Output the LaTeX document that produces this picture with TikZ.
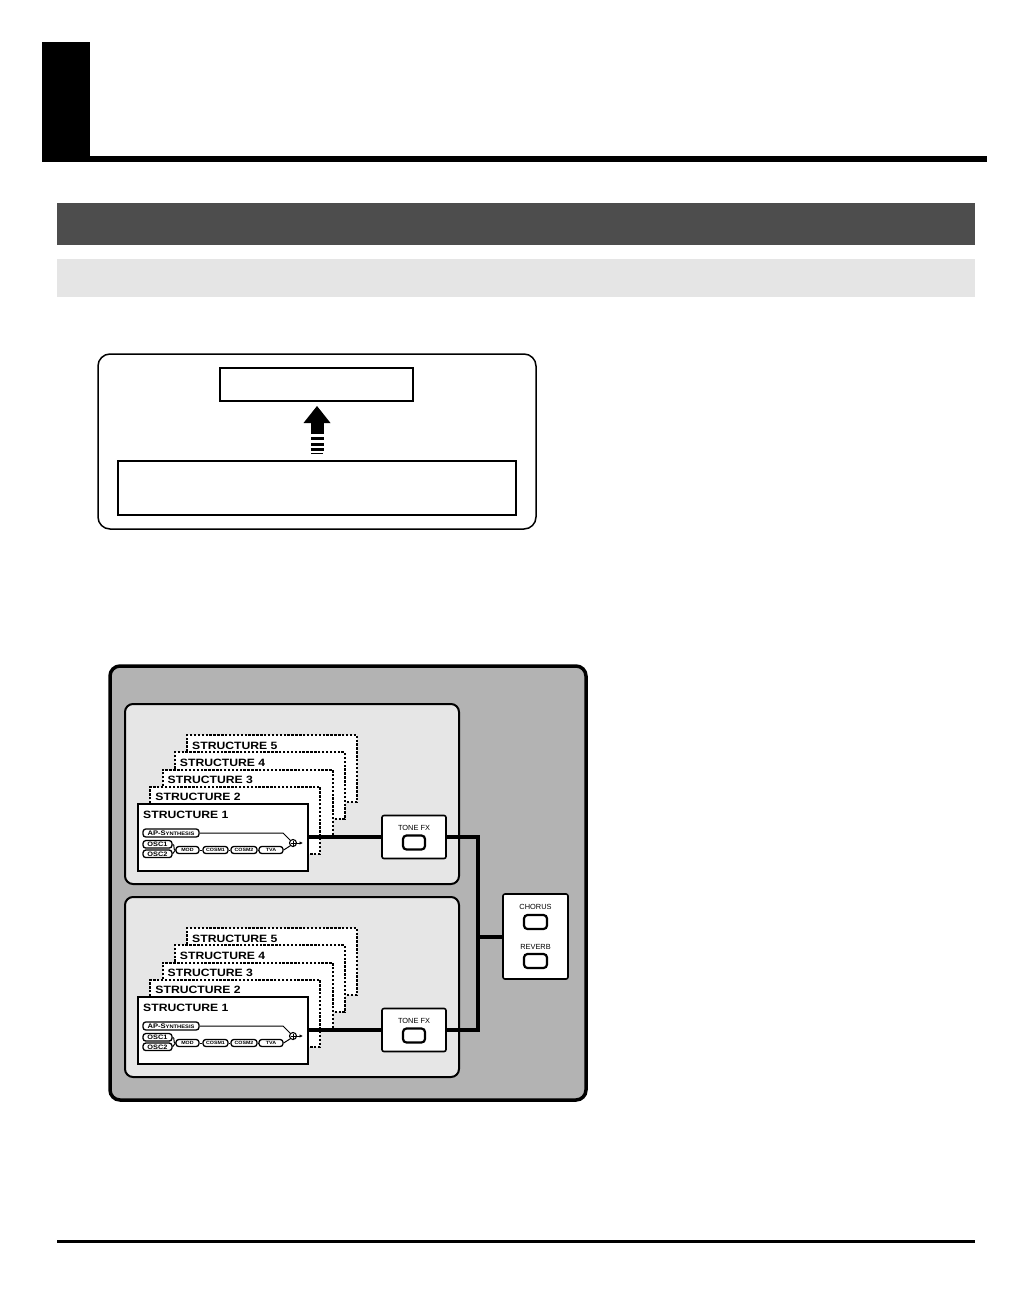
\documentclass[tikz,border=0pt]{standalone}
\usepackage{fontspec}
\setmainfont{Liberation Sans}
\newfontfamily\wfont{Liberation Sans}[FakeStretch=1.15]
\usetikzlibrary{arrows.meta,calc}
\definecolor{outergray}{HTML}{B3B3B3}
\definecolor{panelgray}{HTML}{E6E6E6}
\definecolor{darkbar}{HTML}{4D4D4D}
\definecolor{lightbar}{HTML}{E5E5E5}
\begin{document}
\begin{tikzpicture}[x=1pt,y=-1pt,
  structbox/.style={draw, line width=1.6pt, fill=white, minimum width=170pt, minimum height=67pt, anchor=north west, inner sep=0pt, outer sep=0pt},
  dotbox/.style={structbox, line width=2pt, dash pattern=on 2.4pt off 1.5pt},
  slabel/.style={anchor=base west, inner sep=0pt, font=\wfont\bfseries\fontsize{10.6}{10.6}\selectfont},
  pill/.style={draw, line width=1.3pt, rounded corners=2.8pt, fill=white, inner sep=0pt, minimum height=7pt, font=\wfont\bfseries\fontsize{4.6}{4.6}\selectfont},
  fxbox/.style={draw, line width=1.6pt, rounded corners=2pt, fill=white, inner sep=0pt, outer sep=0pt},
  fxbutton/.style={draw, line width=2.2pt, rounded corners=3.5pt, fill=white, inner sep=0pt, minimum width=22pt, minimum height=14pt},
  fxlabel/.style={inner sep=0pt, font=\fontsize{7.4}{7.4}\selectfont},
  bus/.style={line width=4pt},
  thinline/.style={line width=1pt},
  plainbox/.style={draw, line width=1.6pt, fill=white, inner sep=0pt, outer sep=0pt}
]
% canvas
\useasboundingbox[fill=white] (0,0) rectangle (1032,1304);

% header
\fill[black] (42,42) rectangle (90,162);
\fill[black] (90,156) rectangle (987,162);
\fill[darkbar] (57,203) rectangle (975,245);
\fill[lightbar] (57,259) rectangle (975,297);
\fill[black] (57,1239.5) rectangle (975,1242.5);

% top diagram
\node[draw, line width=1.5pt, rounded corners=12pt, fill=white, minimum width=438pt, minimum height=175pt, inner sep=0pt] (topframe) at (317,441.5) {};
\node[plainbox, minimum width=193pt, minimum height=33pt] (upper) at (316.5,384.5) {};
\node[plainbox, minimum width=398pt, minimum height=54pt] (lower) at (317,488) {};
\fill[black] (317,406) -- (330.5,423) -- (303.5,423) -- cycle;
\fill[black] (310.5,422.5) rectangle (323.5,434.2);
\fill[black] (310.5,436.7) rectangle (323.5,439.5);
\fill[black] (310.5,442.7) rectangle (323.5,445.6);
\fill[black] (310.5,448.3) rectangle (323.5,450.5);
\fill[black] (310.8,452.7) rectangle (323.2,454.4);

% big gray frame
\node[draw, line width=3.5pt, rounded corners=10pt, fill=outergray, minimum width=476pt, minimum height=434pt, inner sep=0pt] (frame) at (348,883) {};

\foreach \p/\dy in {a/0,b/193}{
\begin{scope}[shift={(0,\dy)}]
  \node[draw, line width=2pt, rounded corners=8pt, fill=panelgray, minimum width=334pt, minimum height=180pt, inner sep=0pt] (panel\p) at (292,794) {};
  \foreach \k in {5,4,3,2}{
    \pgfmathsetmacro\lx{138+12.25*(\k-1)}
    \pgfmathsetmacro\ty{804-17.25*(\k-1)}
    \node[dotbox] (s\k\p) at (\lx,\ty) {};
    \node[slabel] (l\k\p) at (\lx+5,\ty+14) {STRUCTURE \k};
  }
  \node[structbox] (s1\p) at (138,804) {};
  \node[slabel] (l1\p) at (143,818) {STRUCTURE 1};
  % inner chain
  \node[pill, minimum width=56pt, minimum height=8pt] (ap\p) at (171,833) {\fontsize{6.6}{6.6}\selectfont AP-S\fontsize{5}{5}\selectfont YNTHESIS};
  \node[pill, minimum width=29pt, minimum height=7.5pt, font=\wfont\bfseries\fontsize{6.4}{6.4}\selectfont] (osca\p) at (157.5,844.3) {OSC1};
  \node[pill, minimum width=29pt, minimum height=7.5pt, font=\wfont\bfseries\fontsize{6.4}{6.4}\selectfont] (oscb\p) at (157.5,853.8) {OSC2};
  \node[pill, minimum width=23pt] (mod\p) at (187.5,850) {MOD};
  \node[pill, minimum width=25pt] (cosa\p) at (215.5,850) {COSM1};
  \node[pill, minimum width=26pt] (cosb\p) at (244,850) {COSM2};
  \node[pill, minimum width=24pt] (tva\p) at (271,850) {TVA};
  \node[draw, circle, line width=1.1pt, fill=white, minimum size=7pt, inner sep=0pt] (mix\p) at (293,843) {};
  \draw[line width=0.7pt] (290.5,843) -- (295.5,843) (293,840.5) -- (293,845.5);
  \coordinate (mixout\p) at (303,843);
  \draw[thinline] (ap\p.east) -- (283,833) -- (mix\p.north west);
  \draw[thinline] (tva\p.east) -- (mix\p.south west);
  \draw[thinline] (osca\p.east) to[out=0,in=180] (mod\p.west);
  \draw[thinline] (oscb\p.east) to[out=0,in=180] (mod\p.west);
  \draw[thinline] (mod\p) -- (cosa\p) (cosa\p) -- (cosb\p) (cosb\p) -- (tva\p);
  \draw[thinline, -{Latex[length=3.5pt,width=3.5pt]}] (mix\p.east) -- (mixout\p);
  % tone fx
  \node[fxbox, minimum width=64pt, minimum height=43pt] (tf\p) at (414,837) {};
  \node[fxlabel] (tfl\p) at (414,828) {TONE FX};
  \node[fxbutton] (tfb\p) at (414,842.5) {};
  \draw[bus] (s1\p.east |- tf\p.west) -- (tf\p.west);
\end{scope}
}

% chorus / reverb
\node[fxbox, minimum width=65pt, minimum height=85pt] (fx) at (535.5,936.5) {};
\node[fxlabel] (chl) at (535.5,907) {CHORUS};
\node[fxbutton, minimum width=23pt] (chb) at (535.5,922) {};
\node[fxlabel] (rvl) at (535.5,946.5) {REVERB};
\node[fxbutton, minimum width=23pt] (rvb) at (535.5,961) {};

\coordinate (bus) at (478,936.5);
\draw[bus] (tfa.east) -| (bus) |- (tfb.east);
\draw[bus] (bus) -- (fx.west);
\end{tikzpicture}
\end{document}
